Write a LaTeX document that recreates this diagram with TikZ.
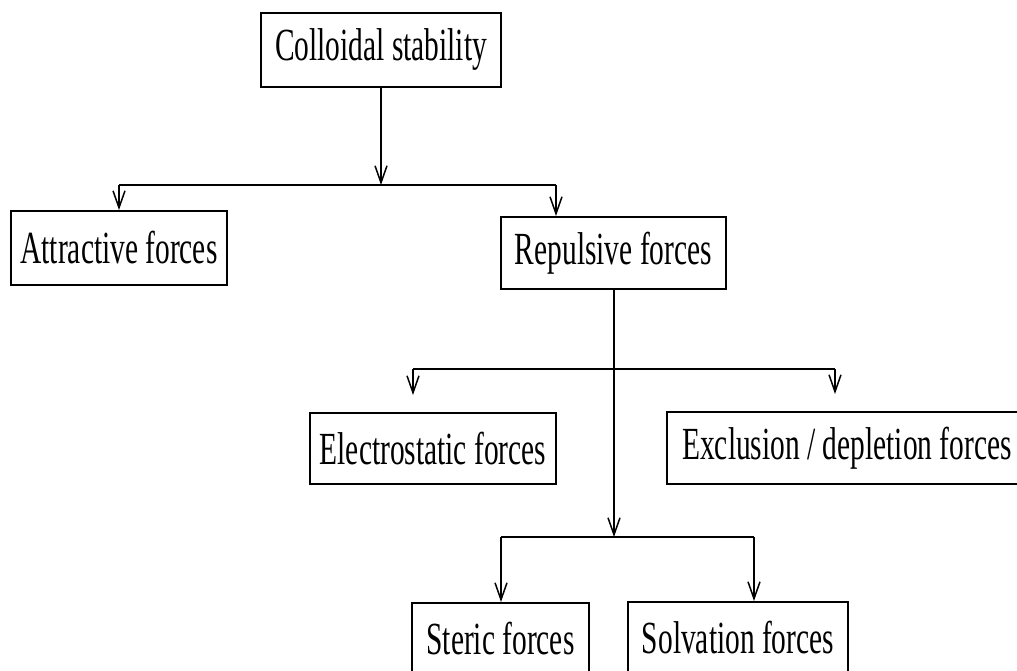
\documentclass[tikz,border=0pt]{standalone}
\usepackage{fontspec}
\setmainfont{Liberation Serif}[FakeStretch=0.64]
\usetikzlibrary{arrows.meta}
\begin{document}
\begin{tikzpicture}[x=1pt,y=-1pt,
  box/.style={draw, line width=2pt, rectangle, inner sep=0pt, minimum height=72pt,
    font=\fontsize{46}{50}\selectfont},
  conn/.style={line width=1.6pt},
  arr/.style={conn, -{Straight Barb[length=17pt,width=12pt,line width=1.5pt]}}]
\clip (0,0) rectangle (1017,670);
\fill[white] (0,0) rectangle (1017,670);
\node[box, minimum width=240pt, minimum height=74pt] (cs) at (381,50) {Colloidal stability};
\node[box, minimum width=216pt, minimum height=74pt] (attr) at (119,248) {Attractive forces};
\node[box, minimum width=225pt] (rep) at (613.5,253) {Repulsive forces};
\node[box, minimum width=246pt, minimum height=71pt] (elec) at (433,448.5) {Electrostatic forces};
\node[box, minimum width=360pt] (excl) at (847,448) {Exclusion / depletion forces};
\node[box, minimum width=177pt] (ster) at (500.5,639) {Steric forces};
\node[box, minimum width=220pt] (solv) at (738,638) {Solvation forces};
% junctions
\coordinate (j1) at (381,185);
\coordinate (j1l) at (119,185);
\coordinate (j1r) at (556,185);
\coordinate (j2) at (614,369);
\coordinate (j2l) at (413,369);
\coordinate (j2r) at (835,369);
\coordinate (j3) at (614,537);
\coordinate (j3l) at (501,537);
\coordinate (j3r) at (754,537);
% level 1
\draw[arr] (cs.south) -- (j1);
\draw[conn] (j1l) -- (j1r);
\draw[arr] (j1l) -- (j1l |- attr.north);
\draw[arr] (j1r) -- (j1r |- rep.north);
% level 2
\draw[arr] (rep.south -| j2) -- (j3);
\draw[conn] (j2l) -- (j2r);
\draw[arr, shorten >=17pt] (j2l) -- (j2l |- elec.north);
\draw[arr, shorten >=17pt] (j2r) -- (j2r |- excl.north);
% level 3
\draw[conn] (j3l) -- (j3r);
\draw[arr] (j3l) -- (j3l |- ster.north);
\draw[arr] (j3r) -- (j3r |- solv.north);
\end{tikzpicture}
\end{document}
